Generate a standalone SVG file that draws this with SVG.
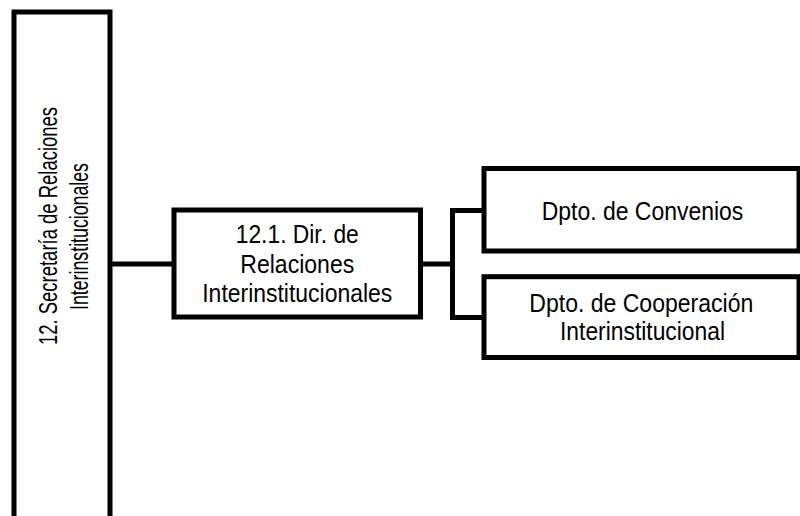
<svg xmlns="http://www.w3.org/2000/svg" width="800" height="516" viewBox="0 0 800 516">
<style>
.box{fill:#fff;stroke:#000;stroke-width:5}
.conn{fill:none;stroke:#000;stroke-width:5;stroke-linejoin:miter}
.t{font-family:"Liberation Sans",Arial,sans-serif;font-size:25.5px;fill:#000;text-anchor:middle}
.tv{font-family:"Liberation Sans",Arial,sans-serif;font-size:26px;fill:#000;text-anchor:middle}
</style>
<rect width="800" height="516" fill="#fff"/>
<g id="connectors">
<path class="conn" d="M110,264 H174"/>
<path class="conn" d="M420.5,264 H452.5"/>
<path class="conn" d="M484,210.5 H452.5 V317.5 H484"/>
</g>
<g id="n12">
<rect class="box" x="14" y="12" width="96" height="530"/>
<text class="tv" transform="translate(57,226) rotate(-90)" x="0" y="0" textLength="238" lengthAdjust="spacingAndGlyphs">12. Secretaría de Relaciones</text>
<text class="tv" transform="translate(88,236.5) rotate(-90)" x="0" y="0" textLength="147" lengthAdjust="spacingAndGlyphs">Interinstitucionales</text>
</g>
<g id="n12_1">
<rect class="box" x="174" y="210" width="246.5" height="107"/>
<text class="t" x="297.25" y="243.3" textLength="123" lengthAdjust="spacingAndGlyphs">12.1. Dir. de</text>
<text class="t" x="297.25" y="272.5" textLength="114" lengthAdjust="spacingAndGlyphs">Relaciones</text>
<text class="t" x="297.25" y="301.5" textLength="190" lengthAdjust="spacingAndGlyphs">Interinstitucionales</text>
</g>
<g id="convenios">
<rect class="box" x="484" y="168.5" width="315" height="82.5"/>
<text class="t" x="642.5" y="219.5" textLength="201.7" lengthAdjust="spacingAndGlyphs">Dpto. de Convenios</text>
</g>
<g id="cooperacion">
<rect class="box" x="484" y="276.7" width="315" height="80.8"/>
<text class="t" x="641.3" y="311.7" textLength="224" lengthAdjust="spacingAndGlyphs">Dpto. de Cooperación</text>
<text class="t" x="642.5" y="340" textLength="165" lengthAdjust="spacingAndGlyphs">Interinstitucional</text>
</g>
</svg>
